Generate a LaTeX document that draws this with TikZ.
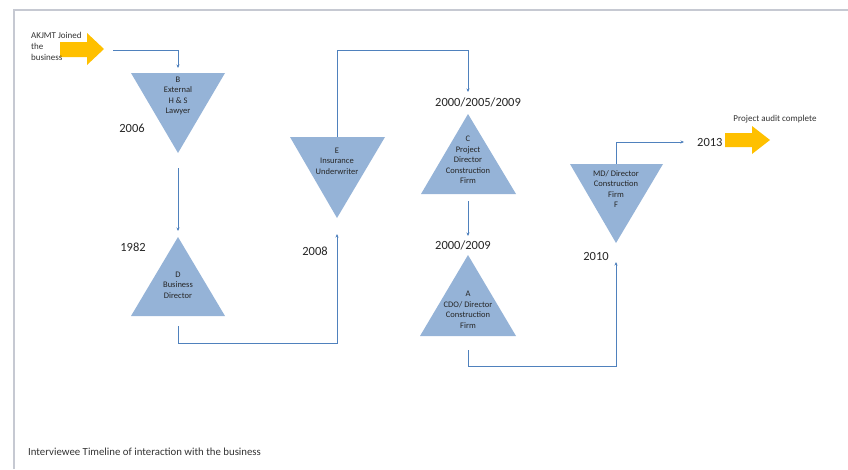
\documentclass[tikz,border=0pt]{standalone}
\usepackage{fontspec}
\setmainfont{Carlito}
\usetikzlibrary{arrows.meta}
\definecolor{trifill}{HTML}{95B3D7}
\definecolor{linkblue}{HTML}{4F81BD}
\definecolor{gold}{HTML}{FFC000}
\definecolor{framegrey}{HTML}{C6C9D2}
\begin{document}
\begin{tikzpicture}[x=1pt,y=-1pt,
  tri/.style={fill=trifill},
  intext/.style={font=\fontsize{8.5}{10.5}\selectfont, align=center, text=black!85, inner sep=0},
  year/.style={font=\fontsize{12.5}{14}\selectfont, text=black!85, inner sep=0},
  smalltext/.style={font=\fontsize{9}{11}\selectfont, text=black!80, inner sep=0},
  link/.style={draw=linkblue, line width=0.7pt, -{Stealth[length=3.5pt,width=3pt]}},
  goldarrow/.style={fill=gold}]

\useasboundingbox (0,0) rectangle (848,469);
\draw[framegrey, line width=1.5pt] (14,469) -- (14,10) -- (848,10);

% ---- start arrow ----
\fill[goldarrow] (60,42) -- (87,42) -- (87,33) -- (104,49) -- (87,65) -- (87,57) -- (60,57) -- cycle;
\node[smalltext, anchor=north west, align=left] (join) at (31,32) {AKJMT Joined\\the\\business};
\coordinate (startout) at (113,50);

% ---- triangles ----
% B (pointing down)
\fill[tri] (131,73) -- (225,73) -- (178,153) -- cycle;
\node[intext] (B) at (178,96) {B\\External\\H \& S\\Lawyer};
\coordinate (Btop) at (178,68);
\coordinate (Bbot) at (178,168);
\node[year] (yB) at (132,128) {2006};

% D (pointing up)
\fill[tri] (131,316) -- (225,316) -- (178,237) -- cycle;
\node[intext] (D) at (178,285) {D\\Business\\Director};
\coordinate (Dtop) at (178,231);
\coordinate (Dbot) at (178,326);
\coordinate (Dturn) at (178,343);
\node[year] (yD) at (133,247) {1982};

% E (pointing down)
\fill[tri] (290,137) -- (385,137) -- (337,218) -- cycle;
\node[intext] (E) at (337,161) {E\\Insurance\\Underwriter};
\coordinate (Etop) at (337,137);
\coordinate (Ebot) at (337,234);
\coordinate (Eturn) at (337,50);
\node[year] (yE) at (315,251) {2008};

% C (pointing up)
\fill[tri] (421,194) -- (516,194) -- (468,114) -- cycle;
\node[intext] (C) at (468,160) {C\\Project\\Director\\Construction\\Firm};
\coordinate (Ctop) at (468,92);
\coordinate (Cbot) at (468,201);
\node[year, anchor=west] (yC) at (435,102) {2000/2005/2009};

% A (pointing up)
\fill[tri] (420,336) -- (516,336) -- (468,255) -- cycle;
\node[intext] (A) at (468,310) {A\\CDO/ Director\\Construction\\Firm};
\coordinate (Atop) at (468,236);
\coordinate (Abot) at (468,350);
\coordinate (Aturn) at (468,366);
\node[year, anchor=west] (yA) at (435,245) {2000/2009};

% F (pointing down)
\fill[tri] (570,164) -- (663,164) -- (616,243) -- cycle;
\node[intext] (F) at (616,189) {MD/ Director\\Construction\\Firm\\F};
\coordinate (Ftop) at (616,164);
\coordinate (Fbot) at (616,262);
\coordinate (Fturn) at (616,142);
\node[year] (yF) at (596,256) {2010};

% ---- end arrow ----
\coordinate (endin) at (684,142);
\node[year, anchor=west] (yEnd) at (697,142) {2013};
\fill[goldarrow] (725,133) -- (752,133) -- (752,126) -- (770,140) -- (752,154) -- (752,147) -- (725,147) -- cycle;
\node[smalltext] (done) at (775,119) {Project audit complete};

% ---- connectors ----
\draw[link] (startout) -| (Btop);
\draw[link] (Bbot) -- (Dtop);
\draw[link] (Dbot) -- (Dturn) -| (Ebot);
\draw[link] (Etop) -- (Eturn) -| (Ctop);
\draw[link] (Cbot) -- (Atop);
\draw[link] (Abot) -- (Aturn) -| (Fbot);
\draw[link] (Ftop) -- (Fturn) -- (endin);

% ---- caption ----
\node[smalltext, font=\fontsize{10.8}{12}\selectfont, anchor=west] (caption) at (28,452) {Interviewee Timeline of interaction with the business};
\end{tikzpicture}
\end{document}
